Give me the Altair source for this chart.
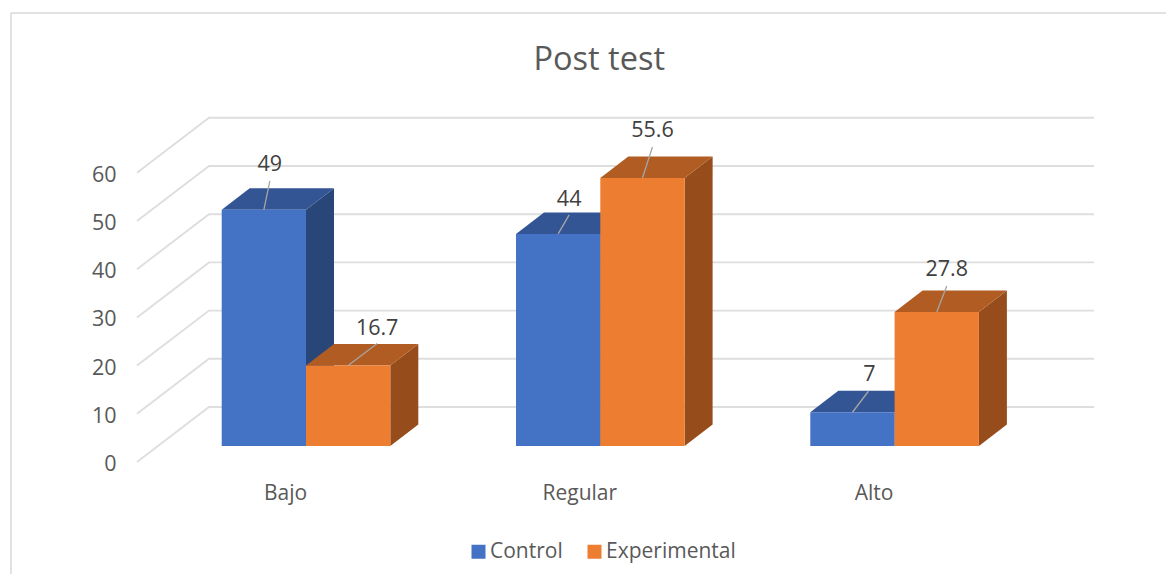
import altair as alt
import pandas as pd

categories = ["Bajo", "Regular", "Alto"]
series = ["Control", "Experimental"]
control = [49, 44, 7]
experimental = [16.7, 55.6, 27.8]
ticks = [0, 10, 20, 30, 40, 50, 60]
front_colors = ["#4472C4", "#ED7D31"]
top_colors = ["#335593", "#B15C22"]
side_colors = ["#294679", "#964D1B"]
# offset of each label and leader end from the top of its bar, in pixels
label_dx = [[6, 11, 17], [29, 10, 10]]
label_dy = [[45, 34, 37], [37, 47, 42]]
leader_dx = [[6, 11, 16], [29, 10, 10]]
leader_dy = [[29, 19, 21], [22, 31, 26]]

# Page layout in pixels
ORIGIN_X, ORIGIN_Y = 11, 13
W, H = 1155, 561
PX_PER_CAT = 294.3
CAT0_X = 285
PX_PER_UNIT = 4.82
ZERO_Y = 462
GROUP_SHIFT = 21 / PX_PER_CAT
BAR_W = 84.3 / PX_PER_CAT
DEPTH_X = 28 / PX_PER_CAT
DEPTH_Y = 21.5 / PX_PER_UNIT
BASE = 16 / PX_PER_UNIT
WALL_X0 = (137 - CAT0_X) / PX_PER_CAT
WALL_X1 = (209 - CAT0_X) / PX_PER_CAT
WALL_X2 = (1094 - CAT0_X) / PX_PER_CAT
WALL_Y = 55 / PX_PER_UNIT

x_scale = alt.Scale(domain=[(ORIGIN_X - CAT0_X) / PX_PER_CAT, (ORIGIN_X + W - CAT0_X) / PX_PER_CAT], nice=False, zero=False)
y_scale = alt.Scale(domain=[(ZERO_Y - ORIGIN_Y - H) / PX_PER_UNIT, (ZERO_Y - ORIGIN_Y) / PX_PER_UNIT], nice=False, zero=False)

grid_rows = []
for t in ticks:
    grid_rows += [
        {"tick": t, "o": 0, "x": WALL_X0, "y": t},
        {"tick": t, "o": 1, "x": WALL_X1, "y": t + WALL_Y},
        {"tick": t, "o": 2, "x": WALL_X2, "y": t + WALL_Y},
    ]

front, top, side, leaders, labels = [], [], [], [], []
for s_i, (name, values) in enumerate(zip(series, [control, experimental])):
    for c_i, v in enumerate(values):
        x0 = c_i + GROUP_SHIFT - BAR_W + s_i * BAR_W
        x1 = x0 + BAR_W
        y1 = BASE + v
        key = f"{s_i}-{c_i}"
        front.append({"s": name, "i": s_i, "x": x0, "x2": x1, "y": BASE, "y2": y1})
        top += [
            {"key": key, "i": s_i, "fill": top_colors[s_i], "x": x0, "x2": x1, "y": y1},
            {"key": key, "i": s_i, "fill": top_colors[s_i], "x": x0 + DEPTH_X, "x2": x1 + DEPTH_X, "y": y1 + DEPTH_Y},
        ]
        side += [
            {"key": key, "i": s_i, "fill": side_colors[s_i], "x": x1, "y": BASE, "y2": y1},
            {"key": key, "i": s_i, "fill": side_colors[s_i], "x": x1 + DEPTH_X, "y": BASE + DEPTH_Y, "y2": y1 + DEPTH_Y},
        ]
        xm = (x0 + x1) / 2
        leaders += [
            {"key": key, "x": xm, "y": y1},
            {"key": key, "x": xm + leader_dx[s_i][c_i] / PX_PER_CAT, "y": y1 + leader_dy[s_i][c_i] / PX_PER_UNIT},
        ]
        labels.append({"text": f"{v}", "x": xm + label_dx[s_i][c_i] / PX_PER_CAT, "y": y1 + label_dy[s_i][c_i] / PX_PER_UNIT})

X = alt.X("x:Q", scale=x_scale, axis=alt.Axis(
    values=[0, 1, 2], labelExpr="['Bajo','Regular','Alto'][datum.value]", title=None, grid=False,
    domain=False, ticks=False, labelFont="Open Sans", labelFontSize=21, labelColor="#595959",
    offset=-(ORIGIN_Y + H - 482), labelPadding=0, labelFlush=False, labelOverlap=False))
Y = alt.Y("y:Q", scale=y_scale, axis=alt.Axis(
    values=ticks, title=None, grid=False, domain=False, ticks=False, labelFont="Open Sans",
    labelFontSize=21.5, labelColor="#595959", offset=-(116 - ORIGIN_X), labelPadding=0,
    labelOffset=2.5, labelFlush=False, labelOverlap=False))

frame = alt.Chart(pd.DataFrame({"a": [0]})).mark_rule(color="#D9D9D9", strokeWidth=1.5)
frame_left = frame.encode(x=alt.value(0), y=alt.value(0), y2=alt.value(H))
frame_top = frame.encode(y=alt.value(0), x=alt.value(0), x2=alt.value(W))

grid = alt.Chart(pd.DataFrame(grid_rows)).mark_line(color="#DEDEDE", strokeWidth=1.9).encode(
    x=X, y=Y, detail="tick:N", order="o:Q",
)

layers = [frame_left, frame_top, grid]
fill = alt.Fill("fill:N", scale=None, legend=None)
color = alt.Color("s:N", scale=alt.Scale(domain=series, range=front_colors), legend=alt.Legend(
    title=None, orient="none", legendX=468 - ORIGIN_X, legendY=541 - ORIGIN_Y, direction="horizontal",
    symbolType="square", symbolSize=196, symbolStrokeWidth=0, symbolOpacity=1,
    labelFont="Open Sans", labelFontSize=21, labelColor="#595959", labelOffset=1, columnPadding=21))
for i in range(len(series)):
    layers.append(alt.Chart(pd.DataFrame([r for r in side if r["i"] == i])).mark_area(orient="vertical", opacity=1).encode(
        x=X, y=Y, y2="y2:Q", fill=fill, detail="key:N"))
    layers.append(alt.Chart(pd.DataFrame([r for r in top if r["i"] == i])).mark_area(orient="horizontal", opacity=1).encode(
        x=X, x2="x2:Q", y=Y, fill=fill, detail="key:N"))
    layers.append(alt.Chart(pd.DataFrame([r for r in front if r["i"] == i])).mark_rect(opacity=1).encode(
        x=X, x2="x2:Q", y=Y, y2="y2:Q", color=color))

layers.append(alt.Chart(pd.DataFrame(leaders)).mark_line(color="#A6A6A6", strokeWidth=1.3).encode(x=X, y=Y, detail="key:N"))
layers.append(alt.Chart(pd.DataFrame(labels)).mark_text(font="Open Sans", fontSize=21.5, color="#404040", baseline="middle").encode(
    x=X, y=Y, text="text:N"))

chart = alt.layer(*layers).properties(
    width=W, height=H,
    autosize=alt.AutoSizeParams(type="none"),
    padding={"left": ORIGIN_X - 8, "top": ORIGIN_Y - 8, "right": 0, "bottom": 0},
    background="white",
    title=alt.TitleParams("Post test", font="Open Sans", fontSize=32.5, fontWeight="normal", color="#595959",
                          anchor="start", frame="bounds", orient="top", dx=600 - ORIGIN_X, dy=ORIGIN_Y + 71, align="center", baseline="middle"),
).configure_view(stroke=None)

chart.save("out.html", embed_options={"renderer": "svg", "actions": False})
